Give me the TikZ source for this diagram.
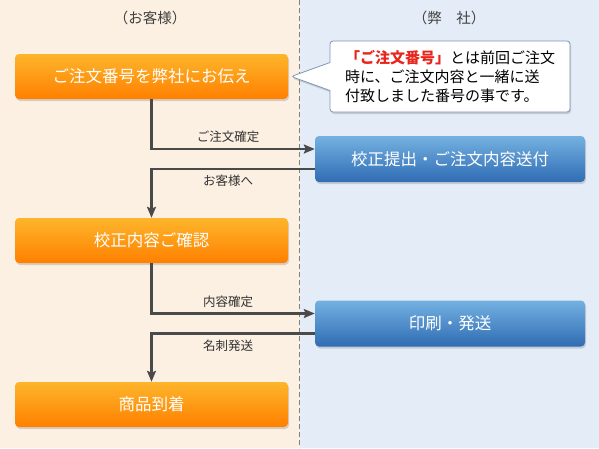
\documentclass[tikz,border=0pt]{standalone}
\usepackage{fontspec}
\setmainfont{Noto Sans CJK JP}
\usetikzlibrary{arrows.meta,shadows,shapes.callouts}
\definecolor{custbg}{HTML}{FCF0E2}
\definecolor{shopbg}{HTML}{E4ECF7}
\definecolor{orangetop}{HTML}{FDB52B}
\definecolor{orangebot}{HTML}{FF8000}
\definecolor{bluetop}{HTML}{74B1E1}
\definecolor{bluebot}{HTML}{2F6CB4}
\definecolor{linegray}{HTML}{4A4A4A}
\definecolor{notered}{HTML}{E8251C}
\definecolor{noteedge}{HTML}{8096B4}

\begin{document}
\begin{tikzpicture}[x=1pt, y=-1pt,
  boxshadow/.style = {drop shadow = {shadow xshift = 1pt, shadow yshift = -2pt, opacity = 0.3}},
  custbox/.style = {shape = rectangle, rounded corners = 4pt, top color = orangetop, bottom color = orangebot,
    minimum width = 273pt, minimum height = 45pt, inner sep = 0pt, text = white,
    font = \fontsize{16.5}{18}\selectfont, boxshadow},
  shopbox/.style = {shape = rectangle, rounded corners = 4pt, top color = bluetop, bottom color = bluebot,
    minimum width = 270pt, minimum height = 46pt, inner sep = 0pt, text = white,
    font = \fontsize{16.5}{18}\selectfont, boxshadow},
  flow/.style = {draw = linegray, line width = 2.2pt, -{Stealth[length = 11pt, width = 9pt, inset = 2pt]}},
  flowlabel/.style = {text = black!80, font = \fontsize{12.5}{14}\selectfont},
  header/.style = {text = black!75, font = \fontsize{14.5}{16}\selectfont}]

% background halves
\fill[custbg] (0,0) rectangle (299.5,448);
\fill[shopbg] (299.5,0) rectangle (599,448);
\useasboundingbox (0,0) rectangle (599,448);
\draw[gray, line width = 0.8pt, dash pattern = on 5pt off 3pt] (299.5,0) -- (299.5,448);

\node[header] (h1) at (150,18) {（お客様）};
\node[header] (h2) at (449,18) {（弊　社）};

% customer side
\node[custbox] (11) at (151.5,76.5) {ご注文番号を弊社にお伝え};
\node[custbox] (12) at (151.5,240.5) {校正内容ご確認};
\node[custbox] (13) at (151.5,404.5) {商品到着};

% shop side
\node[shopbox] (21) at (450,159) {校正提出・ご注文内容送付};
\node[shopbox] (22) at (450,323.5) {印刷・発送};

% note
\node[rectangle callout, fill = white, draw = noteedge, line width = 0.8pt, rounded corners = 3pt,
  minimum width = 240pt, minimum height = 71pt, inner sep = 0pt, align = left,
  callout absolute pointer = {([xshift = 3pt]11.east)}, callout pointer width = 28pt,
  font = \fontsize{15}{19}\selectfont, boxshadow] (30) at (450,76.5)
  {\textcolor{notered}{\bfseries 「ご注文番号」}とは前回ご注文\\時に、ご注文内容と一緒に送\\付致しました番号の事です。};

\draw[flow] (11.south) |- ([yshift = 10pt]21.west) node[flowlabel, pos = 0.75, above = 2pt, xshift = -5pt] {ご注文確定};
\draw[flow] ([yshift = -10pt]21.west) -| (12.north) node[flowlabel, pos = 0.25, below = 2pt, xshift = -5pt] {お客様へ};
\draw[flow] (12.south) |- ([yshift = 10pt]22.west) node[flowlabel, pos = 0.75, above = 2pt, xshift = -5pt] {内容確定};
\draw[flow] ([yshift = -10pt]22.west) -| (13.north) node[flowlabel, pos = 0.25, below = 2pt, xshift = -5pt] {名刺発送};
\end{tikzpicture}
\end{document}
